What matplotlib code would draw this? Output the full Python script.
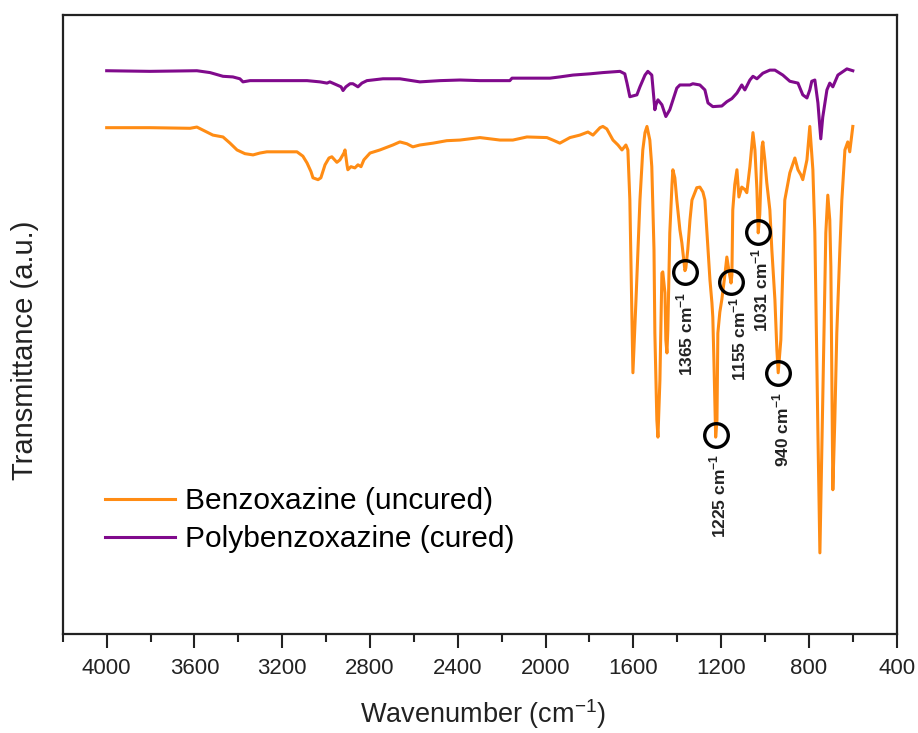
import matplotlib
matplotlib.use("Agg")
import matplotlib.pyplot as plt
from matplotlib.ticker import MultipleLocator

# === FTIR spectra: benzoxazine monomer vs. cured polybenzoxazine ===
plt.rcParams['font.family'] = ['Liberation Sans', 'DejaVu Sans']
plt.rcParams['mathtext.fontset'] = 'custom'
plt.rcParams['mathtext.rm'] = 'Liberation Sans'
plt.rcParams['mathtext.bf'] = 'Liberation Sans:bold'

# Benzoxazine (uncured): wavenumber (cm-1) / transmittance (a.u.)
bz_wn = [4000, 3803, 3620, 3589, 3561, 3516, 3470, 3438, 3406, 3370, 3333, 3302,
         3270, 3210, 3133, 3106, 3087, 3069, 3060, 3037, 3024, 3005, 2987, 2974,
         2951, 2937, 2919, 2914, 2905, 2901, 2887, 2869, 2855, 2841, 2828, 2800,
         2755, 2696, 2664, 2632, 2605, 2573, 2513, 2450, 2390, 2299, 2208, 2149,
         2085, 1994, 1967, 1935, 1889, 1844, 1807, 1784, 1752, 1739, 1721, 1693,
         1670, 1652, 1634, 1625, 1616, 1602, 1588, 1570, 1557, 1547, 1538, 1525,
         1516, 1506, 1502, 1493, 1488, 1479, 1470, 1466, 1456, 1452, 1447, 1443,
         1434, 1424, 1420, 1411, 1402, 1388, 1379, 1370, 1365, 1361, 1352, 1342,
         1333, 1311, 1297, 1283, 1274, 1260, 1251, 1242, 1238, 1233, 1229, 1225,
         1219, 1215, 1206, 1197, 1183, 1174, 1165, 1155, 1151, 1147, 1138, 1128,
         1119, 1106, 1092, 1083, 1069, 1055, 1046, 1037, 1031, 1024, 1014, 1010,
         1001, 992, 978, 969, 955, 946, 940, 928, 923, 910, 887, 864,
         850, 837, 828, 809, 796, 782, 773, 759, 750, 741, 737, 723,
         714, 705, 700, 691, 682, 673, 659, 650, 636, 623, 614, 600]
bz_t = [81.8, 81.8, 81.7, 81.9, 81.4, 80.6, 80.3, 79.3, 78.2, 77.6, 77.4, 77.7,
        77.9, 77.9, 77.9, 77.2, 76.1, 74.7, 73.7, 73.4, 73.7, 75.8, 76.9, 77.1,
        76.2, 76.6, 77.7, 78.2, 75.8, 75.0, 75.5, 75.3, 75.8, 75.5, 76.6, 77.7,
        78.2, 79.0, 79.5, 79.2, 78.7, 79.0, 79.3, 79.7, 79.8, 80.2, 79.8, 79.8,
        80.3, 80.2, 79.8, 79.3, 80.2, 80.6, 81.1, 80.6, 81.8, 82.0, 81.6, 79.8,
        79.0, 78.2, 79.0, 78.2, 70.1, 42.2, 54.0, 70.1, 78.2, 81.0, 82.0, 79.8,
        75.5, 62.1, 48.6, 34.6, 31.8, 41.0, 58.3, 58.5, 55.1, 47.5, 45.4, 49.1,
        64.8, 72.6, 75.0, 73.7, 70.1, 65.3, 63.2, 60.4, 58.7, 59.1, 62.1, 66.9,
        70.1, 72.1, 72.2, 71.4, 70.1, 62.1, 57.2, 53.5, 51.2, 44.3, 37.8, 31.8,
        34.6, 48.6, 52.0, 54.0, 58.0, 60.9, 58.8, 56.7, 58.0, 68.5, 72.6, 75.0,
        70.6, 72.2, 71.8, 71.3, 75.5, 81.0, 78.2, 71.8, 64.8, 67.8, 78.7, 79.5,
        76.6, 72.9, 68.5, 62.1, 54.0, 45.9, 42.2, 47.5, 54.0, 70.1, 74.5, 76.9,
        75.0, 74.2, 73.4, 76.6, 82.0, 75.0, 64.8, 32.5, 13.1, 29.7, 37.8, 64.8,
        70.9, 66.9, 59.3, 23.3, 34.6, 48.6, 62.1, 70.1, 78.2, 79.5, 77.9, 82.0]

# Polybenzoxazine (cured)
pbz_wn = [4000, 3803, 3589, 3529, 3470, 3425, 3393, 3379, 3347, 3210, 3087, 3028,
          2996, 2983, 2951, 2932, 2923, 2910, 2891, 2878, 2864, 2855, 2837, 2814,
          2741, 2664, 2573, 2481, 2390, 2299, 2163, 2153, 2071, 1980, 1935, 1875,
          1798, 1739, 1661, 1639, 1629, 1616, 1584, 1570, 1547, 1534, 1516, 1502,
          1497, 1488, 1470, 1452, 1434, 1402, 1388, 1342, 1329, 1297, 1274, 1260,
          1238, 1197, 1174, 1151, 1128, 1106, 1092, 1069, 1055, 1037, 1010, 978,
          955, 919, 887, 850, 828, 809, 796, 787, 773, 759, 746, 737,
          718, 705, 691, 668, 627, 600]
pbz_t = [91.0, 90.9, 91.0, 90.7, 90.1, 90.0, 89.7, 89.2, 89.4, 89.4, 89.4, 89.2,
         89.0, 89.2, 88.7, 88.4, 87.8, 88.4, 88.9, 88.9, 88.6, 88.4, 89.0, 89.4,
         89.7, 89.7, 89.2, 89.4, 89.5, 89.4, 89.4, 89.8, 89.8, 89.8, 90.0, 90.3,
         90.5, 90.7, 90.9, 90.5, 89.0, 86.8, 87.1, 88.4, 90.3, 90.9, 90.3, 84.7,
         85.5, 86.3, 85.5, 83.6, 84.7, 88.2, 88.7, 88.7, 88.9, 88.7, 87.9, 85.8,
         85.2, 85.3, 86.0, 86.5, 87.4, 88.7, 87.9, 89.5, 90.1, 89.7, 90.6, 91.1,
         91.1, 90.3, 89.3, 89.0, 87.1, 86.6, 87.9, 89.3, 89.5, 85.8, 80.0, 83.5,
         87.9, 89.0, 88.4, 90.3, 91.3, 91.0]

# Marked oxazine-ring bands on the monomer spectrum
peak_wn = [1365, 1225, 1155, 1031, 940]
peak_t = [58.5, 32.2, 56.9, 64.9, 42.1]
peak_dx = [0, 2, 5, 1, 2]  # small horizontal label nudges (points)
peak_dy = [14, 14, 11, 11, 14]

ORANGE = '#FF8C14'
PURPLE = '#800A8C'
INK = '#222222'

fig = plt.figure(figsize=(9.18, 7.33), dpi=100)
ax = fig.add_axes([0.0684, 0.1351, 0.9084, 0.8444])

ax.plot(bz_wn, bz_t, color=ORANGE, lw=2.2, label='Benzoxazine (uncured)')
ax.plot(pbz_wn, pbz_t, color=PURPLE, lw=2.2, label='Polybenzoxazine (cured)')

ax.plot(peak_wn, peak_t, 'o', ms=17, mfc='none', mec='black', mew=2.4)
for wn, t, dx, dy in zip(peak_wn, peak_t, peak_dx, peak_dy):
    ax.annotate(f'{wn} cm' + r'$^{\mathbf{-1}}$', xy=(wn, t),
                xytext=(dx, -dy), textcoords='offset points',
                rotation=90, ha='center', va='top',
                fontsize=12.5, fontweight='bold', color=INK)

ax.set_xlim(4200, 400)
ax.set_ylim(0, 100)
ax.xaxis.set_major_locator(MultipleLocator(400))
ax.xaxis.set_minor_locator(MultipleLocator(200))
ax.set_yticks([])
ax.tick_params(axis='x', which='major', direction='out', length=10, width=1.5,
               labelsize=16, pad=7, colors=INK)
ax.tick_params(axis='x', which='minor', direction='out', length=5.5, width=1.5,
               colors=INK)
for s in ax.spines.values():
    s.set_linewidth(1.6)
    s.set_color(INK)

fig.text(25 / 918, 0.5225, 'Transmittance (a.u.)', rotation=90,
         ha='center', va='center', fontsize=21, color=INK)
fig.text(0.526, 0.026, r'Wavenumber (cm$^{-1}$)', ha='center', va='center',
         fontsize=19.5, color=INK)

ax.legend(loc='upper left', bbox_to_anchor=(0.0506, 0.2375), frameon=False,
          fontsize=21.5, handlelength=2.34, handletextpad=0.33,
          labelspacing=0.35, borderpad=0, borderaxespad=0)

fig.savefig('out.png', dpi=100)
plt.close(fig)
